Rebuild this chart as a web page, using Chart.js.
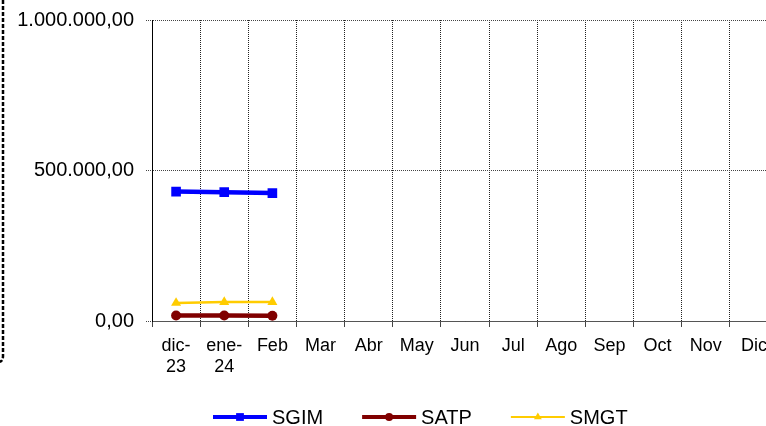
<!DOCTYPE html>
<html><head><meta charset="utf-8">
<script src="https://cdn.jsdelivr.net/npm/chart.js@4.4.1/dist/chart.umd.min.js"></script>
<style>
html,body{margin:0;padding:0;overflow:hidden;background:#fff;width:766px;height:426px;}
#wrap{position:absolute;left:0;top:0;width:800px;height:426px;}
</style></head><body>
<div id="wrap"><canvas id="c" width="800" height="426"></canvas></div>
<script>
const categories = [['dic-','23'],['ene-','24'],'Feb','Mar','Abr','May','Jun','Jul','Ago','Sep','Oct','Nov','Dic'];
const seriesNames = ['SGIM','SATP','SMGT'];
const sgimValues = [430000, 428000, 425000];
const satpValues = [18500, 18000, 17500];
const smgtValues = [60000, 63000, 63000];
const yTickValues = [0, 500000, 1000000];

function fmt(v){
  const s = Math.round(v).toString().replace(/\B(?=(\d{3})+(?!\d))/g,'.');
  return s + ',00';
}
const FONT = '"Liberation Sans", Arial, sans-serif';

function drawMarker(ctx, style, x, y, r, color){
  ctx.fillStyle = color;
  ctx.beginPath();
  if(style==='rect'){ const s=r*Math.SQRT1_2; ctx.rect(x-s,y-s,2*s,2*s); }
  else if(style==='circle'){ ctx.arc(x,y,r,0,Math.PI*2); }
  else if(style==='triangle'){
    const rad=-Math.PI/2;
    ctx.moveTo(x+Math.cos(rad)*r, y+Math.sin(rad)*r);
    ctx.lineTo(x+Math.cos(rad+2*Math.PI/3)*r, y+Math.sin(rad+2*Math.PI/3)*r);
    ctx.lineTo(x+Math.cos(rad+4*Math.PI/3)*r, y+Math.sin(rad+4*Math.PI/3)*r);
    ctx.closePath();
  }
  ctx.fill();
}

const framePlugin = {
  id:'frame',
  beforeDraw(chart){
    const ctx = chart.ctx;
    ctx.save();
    ctx.strokeStyle = '#000';
    ctx.lineWidth = 2.5;
    ctx.setLineDash([4,2]);
    ctx.beginPath();
    ctx.moveTo(3,0);
    ctx.lineTo(3,356);
    ctx.quadraticCurveTo(3,362,-2,362);
    ctx.stroke();
    ctx.restore();
  }
};

const legendPlugin = {
  id:'customLegend',
  afterDraw(chart){
    const ctx = chart.ctx;
    ctx.save();
    ctx.font = '20px ' + FONT;
    ctx.textBaseline = 'middle';
    ctx.textAlign = 'left';
    let x = 213; const y = 417;
    chart.data.datasets.forEach(ds => {
      ctx.strokeStyle = ds.borderColor;
      ctx.lineWidth = ds.legendLineWidth;
      ctx.beginPath(); ctx.moveTo(x,y); ctx.lineTo(x+54,y); ctx.stroke();
      drawMarker(ctx, ds.pointStyle, x+27, y, ds.legendRadius, ds.borderColor);
      ctx.fillStyle = '#000';
      ctx.fillText(ds.label, x+59, y+1);
      x += 59 + ctx.measureText(ds.label).width + 39;
    });
    ctx.restore();
  }
};

new Chart(document.getElementById('c'), {
  type:'line',
  data:{
    labels: categories,
    datasets:[
      {label:seriesNames[0], data:sgimValues, borderColor:'#0000FF', backgroundColor:'#0000FF', borderWidth:4.5, pointStyle:'rect', pointRadius:6.8, pointBackgroundColor:'#0000FF', pointBorderColor:'#0000FF', pointBorderWidth:0, legendLineWidth:4, legendRadius:5.5, tension:0},
      {label:seriesNames[1], data:satpValues, borderColor:'#800000', backgroundColor:'#800000', borderWidth:4.5, pointStyle:'circle', pointRadius:5, pointBackgroundColor:'#800000', pointBorderColor:'#800000', pointBorderWidth:0, legendLineWidth:4, legendRadius:4, tension:0},
      {label:seriesNames[2], data:smgtValues, borderColor:'#FFCC00', backgroundColor:'#FFCC00', borderWidth:2.5, pointStyle:'triangle', pointRadius:5.8, pointBackgroundColor:'#FFCC00', pointBorderColor:'#FFCC00', pointBorderWidth:0, legendLineWidth:2, legendRadius:4.5, tension:0}
    ]
  },
  options:{
    responsive:false,
    animation:false,
    layout:{padding:{left:0, top:20, right:22, bottom:0}},
    plugins:{legend:{display:false}, tooltip:{enabled:false}},
    scales:{
      x:{
        type:'category',
        offset:true,
        grid:{offset:true, color:'#222', lineWidth:1, tickLength:6, tickColor:'#444', tickBorderDash:[]},
        border:{display:true, color:'#555', width:1, dash:[1,1]},
        ticks:{color:'#000', font:{family:FONT, size:18}, padding:8, maxRotation:0, autoSkip:false},
        afterFit(s){ s.height = 105; }
      },
      y:{
        min:0, max:1000000,
        afterBuildTicks(s){ s.ticks = yTickValues.map(v=>({value:v})); },
        grid:{color:'#444', lineWidth:1, tickLength:6, tickBorderDash:[1,1]},
        border:{display:true, color:'#000', width:1, dash:[1,1]},
        ticks:{color:'#000', font:{family:FONT, size:20}, padding:12, callback:(v)=>fmt(v)},
        afterFit(s){ s.width = 152; s.paddingTop = 0; s.paddingBottom = 0; }
      }
    }
  },
  plugins:[framePlugin, legendPlugin]
});
</script>
</body></html>
